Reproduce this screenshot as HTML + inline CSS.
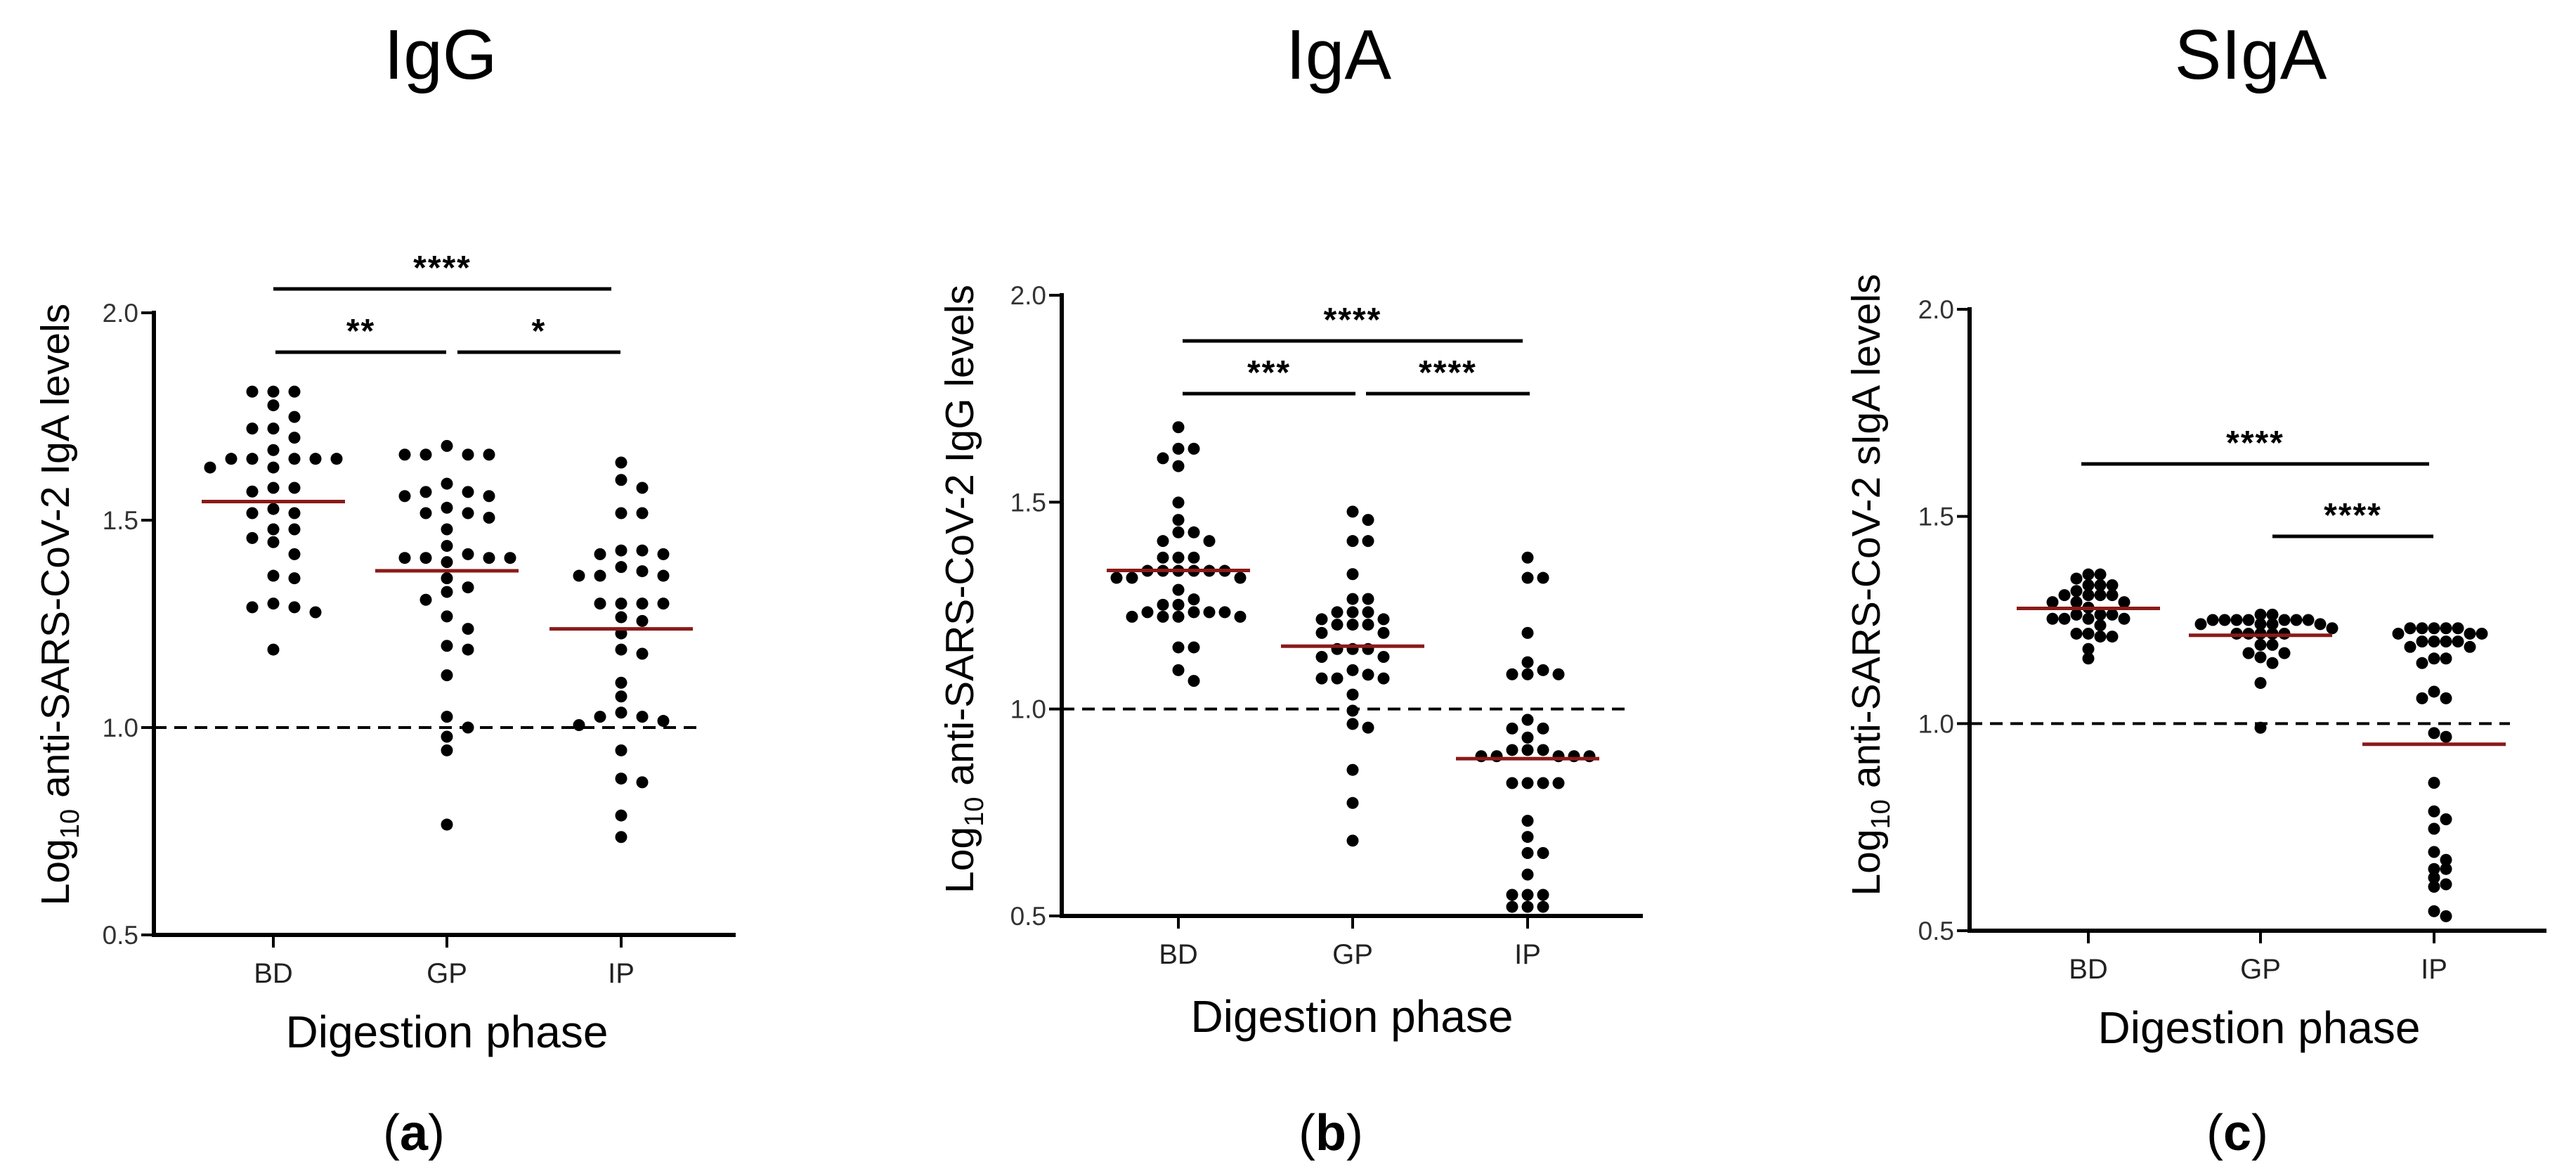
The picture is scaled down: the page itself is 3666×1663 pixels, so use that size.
<!DOCTYPE html>
<html><head><meta charset="utf-8">
<style>
html,body{margin:0;padding:0;background:#fff;}
svg{display:block;}
text{font-family:"Liberation Sans",sans-serif;}
</style></head>
<body>
<svg id="fig" width="3666" height="1663" viewBox="0 0 3666 1663" xmlns="http://www.w3.org/2000/svg"></svg>
<script>
const categories = ["BD","GP","IP"];
const yTicks = [0.5,1.0,1.5,2.0];
const yTickLabels = ["0.5","1.0","1.5","2.0"];

// Panel a (IgG)
const aBD = [1.81,1.81,1.81,1.777,1.749,1.721,1.721,1.699,1.669,1.648,1.648,1.648,1.648,1.648,1.627,1.627,1.578,1.578,1.569,1.527,1.517,1.517,1.478,1.478,1.457,1.447,1.418,1.366,1.36,1.299,1.29,1.29,1.278,1.188];
const aGP = [1.679,1.658,1.658,1.658,1.658,1.588,1.568,1.568,1.558,1.558,1.53,1.517,1.517,1.506,1.478,1.438,1.418,1.409,1.409,1.409,1.409,1.399,1.36,1.338,1.327,1.308,1.268,1.238,1.197,1.188,1.126,1.026,1.0,0.978,0.945,0.766];
const aIP = [1.639,1.597,1.578,1.517,1.517,1.427,1.427,1.418,1.418,1.387,1.377,1.366,1.366,1.366,1.299,1.299,1.299,1.299,1.266,1.257,1.227,1.188,1.178,1.108,1.075,1.036,1.026,1.026,1.016,1.006,0.945,0.877,0.868,0.788,0.736];
const aMedians = [1.545,1.378,1.238];

// Panel b (IgA)
const bBD = [1.681,1.629,1.629,1.606,1.587,1.499,1.457,1.427,1.427,1.406,1.406,1.366,1.366,1.366,1.334,1.334,1.334,1.334,1.334,1.334,1.317,1.317,1.317,1.288,1.265,1.252,1.252,1.234,1.234,1.234,1.234,1.223,1.223,1.223,1.223,1.149,1.149,1.094,1.068];
const bGP = [1.477,1.457,1.406,1.406,1.326,1.266,1.266,1.234,1.234,1.234,1.217,1.217,1.204,1.204,1.204,1.184,1.184,1.145,1.145,1.145,1.126,1.126,1.094,1.083,1.074,1.074,1.074,1.035,0.996,0.964,0.955,0.853,0.773,0.682];
const bIP = [1.366,1.317,1.317,1.184,1.113,1.094,1.084,1.084,1.084,0.974,0.953,0.953,0.931,0.901,0.901,0.901,0.886,0.886,0.886,0.886,0.886,0.821,0.821,0.821,0.821,0.73,0.691,0.652,0.652,0.6,0.551,0.551,0.551,0.522,0.522,0.522];
const bMedians = [1.335,1.152,0.88];

// Panel c (SIgA)
const cBD = [1.36,1.36,1.35,1.334,1.334,1.334,1.32,1.31,1.31,1.31,1.31,1.293,1.293,1.293,1.28,1.263,1.263,1.263,1.253,1.253,1.253,1.253,1.237,1.217,1.217,1.21,1.21,1.18,1.157];
const cGP = [1.263,1.263,1.25,1.25,1.25,1.25,1.25,1.25,1.25,1.24,1.24,1.24,1.24,1.23,1.217,1.217,1.217,1.217,1.217,1.19,1.19,1.17,1.17,1.16,1.146,1.098,0.99];
const cIP = [1.23,1.23,1.23,1.23,1.23,1.217,1.217,1.217,1.198,1.198,1.198,1.198,1.185,1.185,1.157,1.157,1.146,1.077,1.061,1.061,0.977,0.968,0.857,0.788,0.769,0.746,0.69,0.671,0.649,0.649,0.628,0.612,0.606,0.547,0.535];
const cMedians = [1.278,1.213,0.95];

const NS = "http://www.w3.org/2000/svg";
const svg = document.getElementById("fig");
function mk(tag, attrs, parent){
  const e = document.createElementNS(NS, tag);
  for (const k in attrs) e.setAttribute(k, attrs[k]);
  (parent||svg).appendChild(e);
  return e;
}

function panel(P, groups, medians, sigs){
  const g = mk("g", {});
  
  
  const y = v => P.y0 + (v - 0.5) / 1.5 * (P.y2 - P.y0);
  const x = i => P.cx[i];

  const t = mk("text", {x:P.titleX, y:112, "font-size":100, "text-anchor":"middle", fill:"#000"}, g);
  t.textContent = P.title;
  
  

  const ya = mk("line", {x1:P.ax, y1:y(2.0)-3, x2:P.ax, y2:P.y0+3, stroke:"#000", "stroke-width":6}, g);
  
  
  yTicks.forEach((v,i)=>{
    const tk = mk("line", {x1:P.ax-18, y1:y(v), x2:P.ax, y2:y(v), stroke:"#000", "stroke-width":4}, g);
    
    
    const tl = mk("text", {x:P.ax-22, y:y(v)+13, "font-size":37, "text-anchor":"end", fill:"#333"}, g);
    tl.textContent = yTickLabels[i];
    
    
  });
  const yt = mk("text", {x:0, y:0, "font-size":57, "text-anchor":"middle", fill:"#000",
    transform:`translate(${P.ytX},${P.ytY}) rotate(-90)`}, g);
  yt.innerHTML = `Log<tspan font-size="38" dy="14">10</tspan><tspan dy="-14"> anti-SARS-CoV-2 ${P.yname} levels</tspan>`;
  
  

  const xa = mk("line", {x1:P.ax-3, y1:P.y0, x2:P.xEnd, y2:P.y0, stroke:"#000", "stroke-width":6}, g);
  
  
  categories.forEach((c,i)=>{
    const tk = mk("line", {x1:x(i), y1:P.y0, x2:x(i), y2:P.y0+18, stroke:"#000", "stroke-width":4}, g);
    
    
    const tl = mk("text", {x:x(i), y:P.y0+68, "font-size":40, "text-anchor":"middle", fill:"#222"}, g);
    tl.textContent = c;
    
    
  });
  const xt = mk("text", {x:P.xtX, y:P.xtY, "font-size":64, "text-anchor":"middle", fill:"#000"}, g);
  xt.textContent = "Digestion phase";
  
  

  const pl = mk("text", {x:P.letterX, y:1636, "font-size":72, "text-anchor":"middle", fill:"#000", "font-family":"Liberation Serif, serif"}, g);
  pl.innerHTML = `(<tspan font-weight="bold">${P.letter}</tspan>)`;
  
  

  const dl = mk("line", {x1:P.ax, y1:y(1.0), x2:P.dashEnd, y2:y(1.0), stroke:"#000", "stroke-width":4, "stroke-dasharray":"18,11"}, g);
  
  

  const r = 8.5;
  groups.forEach((vals, gi)=>{
    const placed = [];
    const sorted = vals.slice().sort((a,b)=>b-a);
    sorted.forEach(v=>{
      const py = y(v);
      let px = x(gi);
      for (let k=0;k<40;k++){
        const off = (k===0?0:(k%2===1?1:-1)*Math.ceil(k/2))*P.step;
        const cand = x(gi)+off;
        if (placed.every(p=>Math.hypot(p[0]-cand,p[1]-py) >= P.minD)){ px = cand; break; }
      }
      placed.push([px,py]);
      const d = mk("circle", {cx:px, cy:py, r:r, fill:"#000"}, g);
      
      
    });
  });

  medians.forEach((m,i)=>{
    const ml = mk("line", {x1:x(i)-P.mw, y1:y(m), x2:x(i)+P.mw, y2:y(m), stroke:"#8b1a1a", "stroke-width":5}, g);
    
    
  });

  sigs.forEach(s=>{
    const bl = mk("line", {x1:s.x1, y1:s.y, x2:s.x2, y2:s.y, stroke:"#000", "stroke-width":5}, g);
    
    
    const st = mk("text", {x:(s.x1+s.x2)/2, y:s.y-14, "font-size":48, "font-weight":"bold", "text-anchor":"middle", fill:"#000", "letter-spacing":"2"}, g);
    st.textContent = s.t;
    
    
  });
}

panel({name:"panel-igg", title:"IgG", titleX:627, ax:219, y0:1330, y2:445, xEnd:1047,
  cx:[389,636,884], ytX:98, ytY:860, yname:"IgA", xtX:636, xtY:1490, letter:"a", letterX:589,
  dashEnd:1000, step:30, minD:18, mw:102},
  [aBD,aGP,aIP], aMedians,
  [{x1:389,x2:870,y:411,t:"****"},{x1:392,x2:635,y:501,t:"**"},{x1:651,x2:883,y:501,t:"*"}]);

panel({name:"panel-iga", title:"IgA", titleX:1905, ax:1511, y0:1303, y2:420, xEnd:2338,
  cx:[1677,1925,2174], ytX:1385, ytY:838, yname:"IgG", xtX:1924, xtY:1468, letter:"b", letterX:1894,
  dashEnd:2320, step:22, minD:17, mw:102},
  [bBD,bGP,bIP], bMedians,
  [{x1:1683,x2:2167,y:485,t:"****"},{x1:1683,x2:1929,y:560,t:"***"},{x1:1944,x2:2177,y:560,t:"****"}]);

panel({name:"panel-sigA", title:"SIgA", titleX:3203, ax:2803, y0:1324, y2:440, xEnd:3624,
  cx:[2972,3217,3464], ytX:2675, ytY:832, yname:"sIgA", xtX:3215, xtY:1484, letter:"c", letterX:3184,
  dashEnd:3572, step:17, minD:12, mw:102},
  [cBD,cGP,cIP], cMedians,
  [{x1:2962,x2:3457,y:660,t:"****"},{x1:3234,x2:3463,y:763,t:"****"}]);
</script>
</body></html>
